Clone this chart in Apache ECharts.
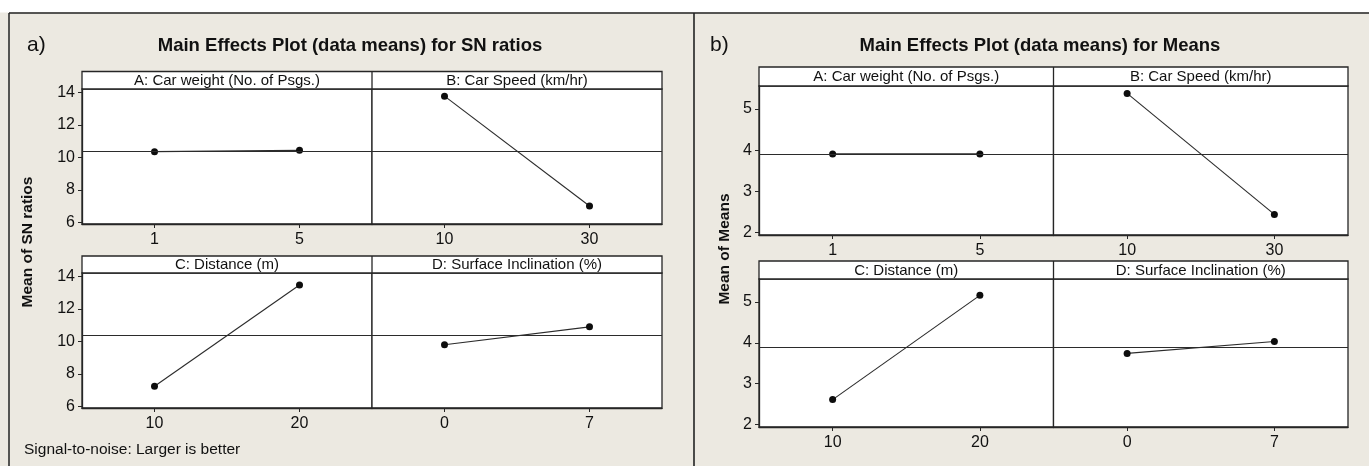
<!DOCTYPE html>
<html><head><meta charset="utf-8">
<script src="https://cdn.jsdelivr.net/npm/echarts@6/dist/echarts.min.js"></script>
<style>html,body{margin:0;padding:0;background:#fff}#c{width:1369px;height:466px}</style>
</head><body><div id="c"></div>
<script>
// ---------- data ----------
const factorNames = ['A: Car weight (No. of Psgs.)', 'B: Car Speed (km/hr)', 'C: Distance (m)', 'D: Surface Inclination (%)'];
const levelsA = ['1', '5'];
const levelsB = ['10', '30'];
const levelsC = ['10', '20'];
const levelsD = ['0', '7'];
const snA = [10.36, 10.44];
const snB = [13.78, 7.01];
const snC = [7.24, 13.48];
const snD = [9.80, 10.90];
const snMean = 10.38;
const meanA = [3.91, 3.91];
const meanB = [5.38, 2.44];
const meanC = [2.61, 5.16];
const meanD = [3.74, 4.03];
const meansMean = 3.90;
const snTicks = [6, 8, 10, 12, 14];
const meansTicks = [2, 3, 4, 5];
const titles = ['Main Effects Plot (data means) for SN ratios', 'Main Effects Plot (data means) for Means'];
const panelLabels = ['a)', 'b)'];
const yNames = ['Mean of SN ratios', 'Mean of Means'];
const footnote = 'Signal-to-noise: Larger is better';

// ---------- layout ----------
const SANS = '"Liberation Sans", Arial, sans-serif';
const INK = '#262626';
const panels = [
  { xs: [82, 372, 662], rows: [{ h: 71.5, t: 89, b: 224 }, { h: 256, t: 273, b: 408 }],
    min: 5.9, max: 14.22, ticks: snTicks, mean: snMean,
    values: [snA, snB, snC, snD], titleX: 350, labelX: 27, yNameX: 28, yNameY: 242 },
  { xs: [759, 1053.5, 1348], rows: [{ h: 67, t: 86, b: 235 }, { h: 261, t: 279, b: 427 }],
    min: 1.94, max: 5.56, ticks: meansTicks, mean: meansMean,
    values: [meanA, meanB, meanC, meanD], titleX: 1040, labelX: 710, yNameX: 725, yNameY: 249 }
];
const levels = [levelsA, levelsB, levelsC, levelsD];

const grids = [], xAxes = [], yAxes = [], series = [], graphics = [];

graphics.push({ type: 'rect', shape: { x: 0, y: 0, width: 1369, height: 12.5 }, style: { fill: '#ffffff' }, silent: true });
graphics.push({ type: 'line', shape: { x1: 9, y1: 13, x2: 1369, y2: 13 }, style: { stroke: '#222', lineWidth: 1.5 }, silent: true });
graphics.push({ type: 'line', shape: { x1: 9, y1: 13, x2: 9, y2: 466 }, style: { stroke: '#222', lineWidth: 1.5 }, silent: true });
graphics.push({ type: 'line', shape: { x1: 694, y1: 13, x2: 694, y2: 466 }, style: { stroke: '#222', lineWidth: 1.6 }, silent: true });

panels.forEach((p, pi) => {
  graphics.push({ type: 'text', x: p.labelX, y: 45, style: { text: panelLabels[pi], font: '21px ' + SANS, fill: '#111', textAlign: 'left', textVerticalAlign: 'middle' }, silent: true });
  graphics.push({ type: 'text', x: p.titleX, y: 46, style: { text: titles[pi], font: 'bold 18.5px ' + SANS, fill: '#111', textAlign: 'center', textVerticalAlign: 'middle' }, silent: true });
  graphics.push({ type: 'text', x: p.yNameX, y: p.yNameY, rotation: Math.PI / 2, style: { text: yNames[pi], font: 'bold 15.5px ' + SANS, fill: '#111', textAlign: 'center', textVerticalAlign: 'middle' }, silent: true });
  p.rows.forEach((r, ri) => {
    graphics.push({ type: 'rect', shape: { x: p.xs[0], y: r.h, width: p.xs[2] - p.xs[0], height: r.t - r.h }, style: { fill: '#ffffff', stroke: INK, lineWidth: 1.3 }, silent: true });
    graphics.push({ type: 'line', shape: { x1: p.xs[1], y1: r.h, x2: p.xs[1], y2: r.t }, style: { stroke: INK, lineWidth: 1.3 }, silent: true });
    for (let ci = 0; ci < 2; ci++) {
      const f = ri * 2 + ci;
      const gi = grids.length;
      const left = p.xs[ci], width = p.xs[ci + 1] - p.xs[ci];
      graphics.push({ type: 'text', x: left + width / 2, y: (r.h + r.t) / 2 + 0.5, style: { text: factorNames[f], font: '15px ' + SANS, fill: '#111', textAlign: 'center', textVerticalAlign: 'middle' }, silent: true });
      grids.push({ left: left, top: r.t, width: width, height: r.b - r.t, show: true, backgroundColor: '#ffffff', borderColor: INK, borderWidth: 1.3, containLabel: false });
      xAxes.push({
        type: 'category', gridIndex: gi, data: levels[f], boundaryGap: true,
        axisLine: { show: true, lineStyle: { color: INK, width: 1.3 } },
        axisTick: { show: true, alignWithLabel: true, length: 4, lineStyle: { color: INK } },
        axisLabel: { show: true, margin: 8, color: '#111', fontFamily: SANS, fontSize: 16 },
        splitLine: { show: false }
      });
      yAxes.push({
        type: 'value', gridIndex: gi, min: p.min, max: p.max,
        axisLine: { show: ci === 0, lineStyle: { color: INK, width: 1.3 } },
        axisTick: { show: ci === 0, length: 4, customValues: p.ticks, lineStyle: { color: INK } },
        axisLabel: { show: ci === 0, customValues: p.ticks, margin: 7, color: '#111', fontFamily: SANS, fontSize: 16 },
        splitLine: { show: false }
      });
      series.push({
        type: 'line', xAxisIndex: gi, yAxisIndex: gi, data: p.values[f],
        symbol: 'circle', symbolSize: 7, showSymbol: true,
        itemStyle: { color: '#0d0d0d' }, lineStyle: { color: '#2b2b2b', width: 1.1 },
        emphasis: { disabled: true }, silent: true, animation: false,
        markLine: { silent: true, symbol: ['none', 'none'], label: { show: false }, animation: false,
          lineStyle: { color: '#2b2b2b', width: 1.1, type: 'solid' }, emphasis: { disabled: true },
          data: [{ yAxis: p.mean }] }
      });
    }
  });
});
graphics.push({ type: 'text', x: 24, y: 450, style: { text: footnote, font: '15.5px ' + SANS, fill: '#111', textAlign: 'left', textVerticalAlign: 'middle' }, silent: true });

const chart = echarts.init(document.getElementById('c'), null, { renderer: 'canvas' });
chart.setOption({
  backgroundColor: '#ECE9E1',
  animation: false,
  grid: grids, xAxis: xAxes, yAxis: yAxes, series: series,
  graphic: { elements: graphics }
});
</script></body></html>
